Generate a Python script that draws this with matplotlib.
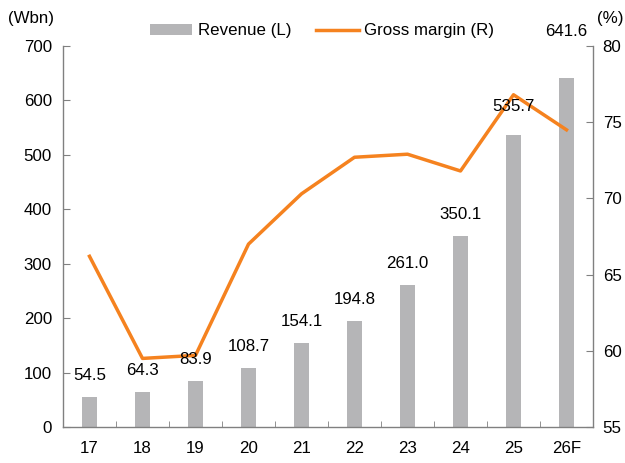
import matplotlib
matplotlib.use("Agg")
import matplotlib.pyplot as plt
import numpy as np

categories = ["17", "18", "19", "20", "21", "22", "23", "24", "25", "26F"]
revenue = [54.5, 64.3, 83.9, 108.7, 154.1, 194.8, 261.0, 350.1, 535.7, 641.6]
gross_margin = [66.2, 59.5, 59.7, 67.0, 70.3, 72.7, 72.9, 71.8, 76.8, 74.5]

plt.rcParams['font.family'] = ['Liberation Sans', 'DejaVu Sans']
FS = 12.2
fig = plt.figure(figsize=(6.25, 4.63), dpi=100)
ax = fig.add_axes([63/625, 1-427/463, (593-63)/625, (427-46)/463])
ax2 = ax.twinx()

x = np.arange(len(categories))
bar_color = "#b5b5b7"
line_color = "#f5821f"
spine_color = "#808080"

ax.bar(x, revenue, width=0.3, color=bar_color, zorder=2, label="Revenue (L)")
ax2.plot(x, gross_margin, color=line_color, lw=2.5, zorder=3, label="Gross margin (R)")

ax.set_xlim(-0.5, len(categories) - 0.5)
ax.set_ylim(0, 700)
ax.set_yticks(range(0, 701, 100))
ax2.set_ylim(55, 80)
ax2.set_yticks(range(55, 81, 5))

label_offsets = [26] * len(revenue)
label_offsets[-2] = 40
label_offsets[-1] = 72
for xi, v, off in zip(x, revenue, label_offsets):
    ax2.text(xi, v + off, f"{v:.1f}", ha="center", va="bottom", fontsize=FS, zorder=5,
             transform=ax.transData)

ax.set_xticks(x)
ax.set_xticklabels(categories, fontsize=FS)
ax.tick_params(axis='x', which='major', length=0, pad=10)
ax.set_xticks(np.arange(-0.5, len(categories), 1), minor=True)
ax.tick_params(axis='x', which='minor', direction='in', length=4, color=spine_color)
ax.tick_params(axis='y', direction='in', length=5, color=spine_color, labelsize=FS, pad=8)
ax2.tick_params(axis='y', direction='in', length=5, color=spine_color, labelsize=FS, pad=7)

for a in (ax, ax2):
    a.spines['top'].set_visible(False)
    for s in ('left', 'right', 'bottom'):
        a.spines[s].set_color(spine_color)
        a.spines[s].set_linewidth(1.0)
ax.spines['right'].set_visible(False)
ax2.spines['left'].set_visible(False)
ax2.spines['bottom'].set_visible(False)

fig.text(8/625, 1-18/463, "(Wbn)", fontsize=FS, va="center", ha="left")
fig.text(623/625, 1-18/463, "(%)", fontsize=FS, va="center", ha="right")

h1, l1 = ax.get_legend_handles_labels()
h2, l2 = ax2.get_legend_handles_labels()
fig.legend(h1 + h2, l1 + l2, loc="center", bbox_to_anchor=(322/625, 1-31/463), ncol=2,
           frameon=False, fontsize=FS, handlelength=2.5, handleheight=0.55,
           columnspacing=1.5, handletextpad=0.3)

fig.savefig("out.png", dpi=100)
